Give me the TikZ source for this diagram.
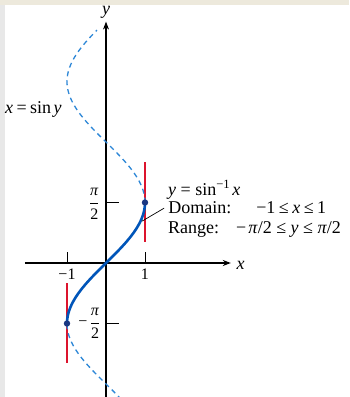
\documentclass[tikz,border=0pt]{standalone}
\usepackage{fontspec}
\setmainfont{Liberation Serif}
\usetikzlibrary{arrows.meta}
\definecolor{dashblue}{RGB}{45,135,215}
\definecolor{solidblue}{RGB}{0,85,185}
\definecolor{redline}{RGB}{220,20,45}
\definecolor{dotblue}{RGB}{25,55,130}
\definecolor{beigestrip}{RGB}{237,233,220}
\definecolor{greystrip}{RGB}{232,232,232}
\newcommand{\myrel}[1]{\hspace{3.5pt}#1\hspace{3.5pt}}
\newcommand{\myrelw}[1]{\hspace{4.5pt}#1\hspace{4.5pt}}
\newcommand{\iv}[1]{\textit{#1}}
\newcommand{\fracpi}{$\displaystyle\frac{\hbox{\iv{π}}}{\hbox{2}}$}
\begin{document}
\begin{tikzpicture}[x=39pt,y=38.5pt,
  font=\fontsize{18}{20}\selectfont,
  ticklbl/.style={inner sep=0pt,font=\fontsize{16}{18}\selectfont},
  axisline/.style={line width=1.1pt,-{Stealth[length=8pt,width=6pt]}},
  tickline/.style={line width=0.9pt},
  dashcurve/.style={dashblue,line width=1.3pt,dash pattern=on 5pt off 4pt},
  solidcurve/.style={solidblue,line width=2.6pt},
  redbar/.style={redline,line width=2.2pt},
  dotmark/.style={fill=dotblue},
  lbl/.style={inner sep=0pt},
  leader/.style={line width=0.7pt}]
\useasboundingbox (-106pt,-134pt) rectangle (243pt,263pt);
\fill[white] (-106pt,-134pt) rectangle (243pt,263pt);
\fill[beigestrip] (-106pt,258pt) rectangle (243pt,263pt);
\fill[greystrip] (-106pt,-134pt) rectangle (-101pt,258pt);
% red bars
\draw[redbar] (1,0.55) -- (1,2.62);
\draw[redbar] (-1,-0.52) -- (-1,-2.6);
% axes
\coordinate (xl) at (-2.08,0);
\coordinate (xr) at (3.2,0);
\coordinate (yb) at (0,-3.6);
\coordinate (yt) at (0,6.27);
\draw[axisline] (xl) -- (xr);
\draw[axisline] (yb) -- (yt);
\node[lbl] (ylab) at (0,6.52) {\iv{y}};
\node[lbl] (xlab) at (3.45,-0.06) {\iv{x}};
% ticks
\draw[tickline] (-1,0) -- (-1,0.29);
\draw[tickline] (1,0) -- (1,0.29);
\draw[tickline] (0,1.5708) -- (0.33,1.5708);
\draw[tickline] (0,-1.5708) -- (0.33,-1.5708);
\node[ticklbl] (tm1) at (-1,-0.30) {−1};
\node[ticklbl] (tp1) at (1,-0.30) {1};
\node[ticklbl] (tpi) at (-0.30,1.54) {\fracpi};
\node[ticklbl] (tmpi) at (-0.28,-1.57) {\fracpi};
\node[ticklbl,anchor=east] (tmin) at ([xshift=-2pt]tmpi.west) {−};
% curves
\draw[dashcurve] plot[domain=-3.55:-1.5708,samples=50,variable=\t] ({sin(\t r)},\t);
\draw[dashcurve] plot[domain=1.5708:6.05,samples=90,variable=\t] ({sin(\t r)},\t);
\draw[solidcurve] plot[domain=-1.5708:1.5708,samples=60,variable=\t] ({sin(\t r)},\t);
\fill[dotmark] (1,1.5708) circle (3.2pt);
\fill[dotmark] (-1,-1.5708) circle (3.2pt);
% labels
\node[lbl,anchor=east] (sinlab) at (-1.13,4.0) {\iv{x}\hspace{3.5pt}=\hspace{3.5pt}sin\hspace{2.5pt}\iv{y}};
\node[lbl,anchor=base west] (arcl) at (1.59,1.766) {\iv{y}\myrelw{=}sin\textsuperscript{−1}\hspace{2pt}\iv{x}};
\node[lbl,anchor=base west,inner xsep=4pt] (dom) at (1.49,1.273) {Domain:\hspace{25pt}−1\myrel{≤}\iv{x}\myrel{≤}1};
\node[lbl,anchor=base west] (rng) at (1.59,0.779) {Range:\hspace{17pt}−\hspace{2pt}\iv{π}/2\myrelw{≤}\iv{y}\myrelw{≤}\iv{π}/2};
\coordinate (cp) at (0.93,1.09);
\draw[leader] (dom.west) -- (cp);
\end{tikzpicture}
\end{document}
